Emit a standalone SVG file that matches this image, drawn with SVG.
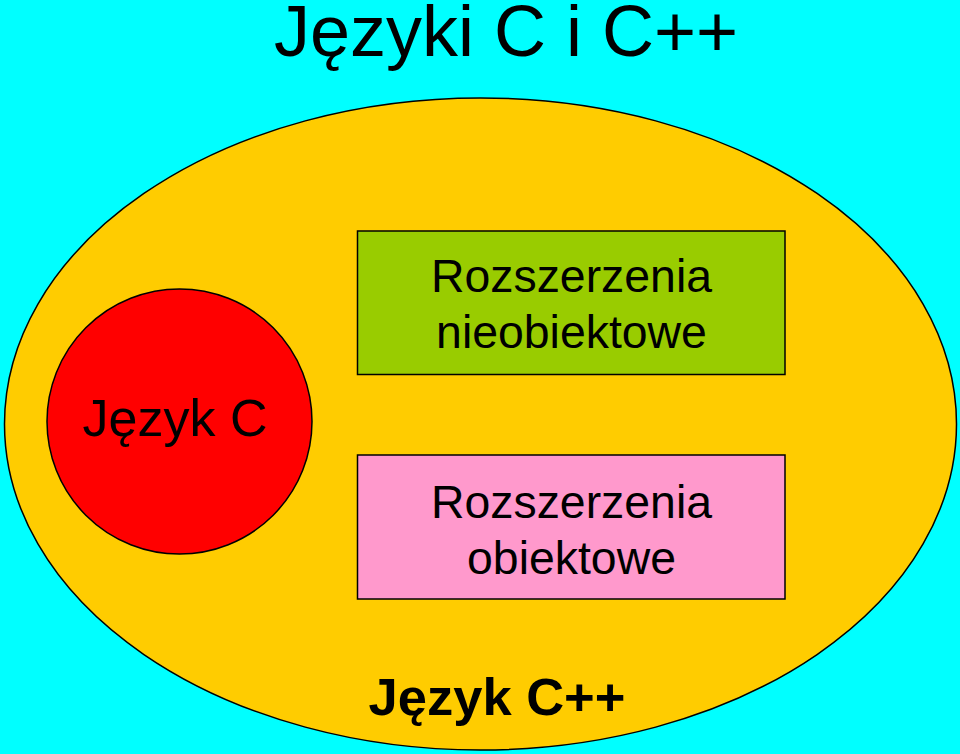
<svg xmlns="http://www.w3.org/2000/svg" width="960" height="754" viewBox="0 0 960 754">
<style>
.s{stroke:#000;stroke-width:1.5}
.t{font-family:"Liberation Sans",Arial,sans-serif;fill:#000;text-anchor:middle}
</style>
<rect width="960" height="754" fill="#00FFFF"/>
<text class="t" x="506" y="56" font-size="72">Języki C i C++</text>
<g id="cpp">
<ellipse class="s" cx="480.5" cy="424" rx="476" ry="326" fill="#FFCC00"/>
<text class="t" x="497" y="715" font-size="52.5" font-weight="bold">Język C++</text>
</g>
<g id="c">
<circle class="s" cx="179.5" cy="421.5" r="132.5" fill="#FF0000"/>
<text class="t" x="175" y="436" font-size="52">Język C</text>
</g>
<g id="nieobiektowe">
<rect class="s" x="357.5" y="231" width="427.5" height="143.5" fill="#99CC00"/>
<text class="t" x="571.5" y="292" font-size="46.4">Rozszerzenia</text>
<text class="t" x="571.5" y="348" font-size="46.4">nieobiektowe</text>
</g>
<g id="obiektowe">
<rect class="s" x="357.5" y="455" width="427.5" height="144" fill="#FF99CC"/>
<text class="t" x="571.5" y="518" font-size="46.4">Rozszerzenia</text>
<text class="t" x="571.5" y="574" font-size="46.4">obiektowe</text>
</g>
<g id="connectors"/>
</svg>
